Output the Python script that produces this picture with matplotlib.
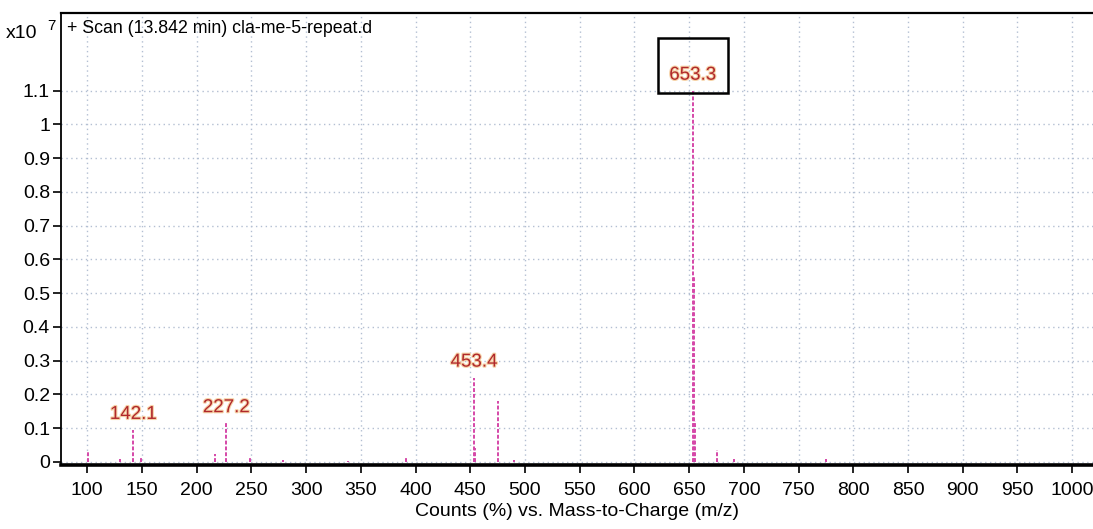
import matplotlib
matplotlib.use("Agg")
import matplotlib.pyplot as plt
import matplotlib.patheffects as pe
from matplotlib.patches import Rectangle
from matplotlib.ticker import FuncFormatter

plt.rcParams['font.family'] = ['Liberation Sans Narrow', 'Liberation Sans', 'DejaVu Sans']

# centroid peaks: m/z and intensity (x10^7 counts)
peak_mz = [100.5, 130.0, 142.1, 149.0, 217.0, 227.2, 249.0, 279.0, 338.0,
           391.0, 453.4, 454.4, 475.4, 490.0, 653.3, 654.3, 655.3, 675.3,
           691.0, 775.0]
peak_int = [0.030, 0.010, 0.095, 0.012, 0.025, 0.115, 0.015, 0.006, 0.004,
            0.012, 0.250, 0.040, 0.180, 0.006, 1.100, 0.550, 0.120, 0.035,
            0.010, 0.008]

# annotated peaks
label_mz = [142.1, 227.2, 453.4, 653.3]
label_int = [0.095, 0.115, 0.250, 1.100]

x_ticks = list(range(100, 1001, 50))
y_ticks = [0.0, 0.1, 0.2, 0.3, 0.4, 0.5, 0.6, 0.7, 0.8, 0.9, 1.0, 1.1]

fig = plt.figure(figsize=(10.93, 5.29), dpi=100)
ax = fig.add_axes([0.0558, 0.121, 0.9442, 0.8544])

ax.set_xlim(76.0, 1019.0)
ax.set_ylim(-0.009, 1.33)

ax.set_xticks(x_ticks)
ax.set_yticks(y_ticks)
ax.yaxis.set_major_formatter(FuncFormatter(lambda v, p: '%g' % round(v, 1)))

ax.grid(which='major', color='#b3bfd2', linestyle=(0, (1, 2.5)), linewidth=1.0)
ax.set_axisbelow(True)

ax.tick_params(axis='both', direction='out', length=6, width=1.2,
               labelsize=14, colors='black')
ax.tick_params(axis='x', pad=6)
ax.tick_params(axis='y', pad=2)

ax.spines['right'].set_visible(False)
ax.spines['bottom'].set_linewidth(2.6)
ax.spines['left'].set_linewidth(1.3)
ax.spines['top'].set_linewidth(1.6)

# the spectrum as stick lines
ax.vlines(peak_mz, 0, peak_int, colors='#d548a8', linestyles=(0, (2, 1)),
          linewidth=1.4, zorder=3)

glow = [pe.withStroke(linewidth=1.6, foreground='#f6d2a6')]
for mz, h in zip(label_mz, label_int):
    ax.annotate('%.1f' % mz, xy=(mz, h), xytext=(0, 5),
                textcoords='offset points', ha='center', va='bottom',
                fontsize=13.5, color='#b0282c', path_effects=glow, zorder=4)

# box around the base peak label
ax.add_patch(Rectangle((621.5, 1.093), 63.7, 0.163, fill=False,
                       edgecolor='black', linewidth=1.8, zorder=5,
                       clip_on=False))

ax.text(0.006, 0.965, '+ Scan (13.842 min) cla-me-5-repeat.d',
        transform=ax.transAxes, ha='left', va='center', fontsize=12.8)

fig.text(0.005, 0.937, 'x10', ha='left', va='center', fontsize=14)
fig.text(0.043, 0.950, '7', ha='left', va='center', fontsize=11)

ax.set_xlabel('Counts (%) vs. Mass-to-Charge (m/z)', fontsize=14,
              labelpad=3)

fig.savefig('out.png', dpi=100, facecolor='white')
